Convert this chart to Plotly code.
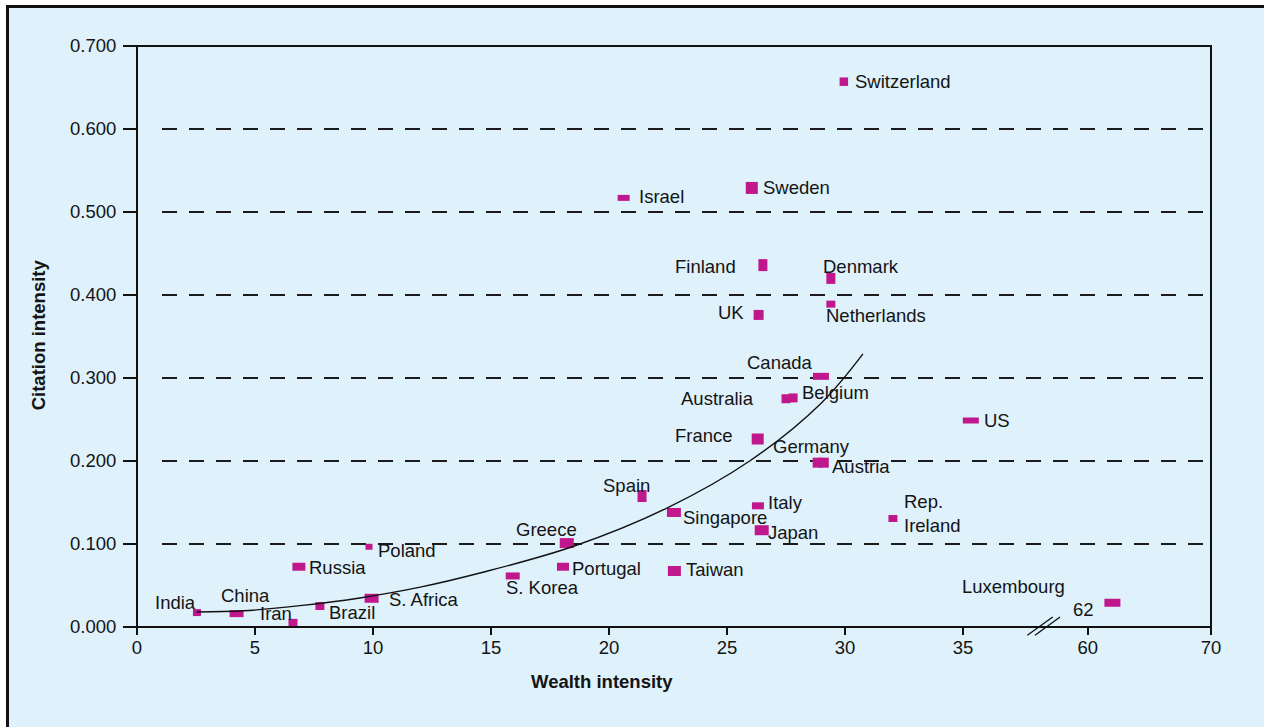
import plotly.graph_objects as go

# ---------------- data ----------------
countries = ["India", "China", "Iran", "Brazil", "Russia", "Poland", "S. Africa",
             "S. Korea", "Portugal", "Greece", "Spain", "Singapore", "Taiwan",
             "Israel", "Sweden", "Finland", "UK", "France", "Italy", "Japan",
             "Australia", "Belgium", "Canada", "Germany", "Austria", "Denmark",
             "Netherlands", "Switzerland", "Rep.<br>Ireland", "US", "Luxembourg"]
wealth = [2.54, 4.22, 6.61, 7.75, 6.86, 9.83, 9.94,
          15.92, 18.05, 18.21, 21.40, 22.75, 22.77,
          20.62, 26.05, 26.52, 26.34, 26.30, 26.31, 26.47,
          27.50, 27.80, 28.98, 28.84, 29.10, 29.40,
          29.40, 29.95, 32.03, 35.33, 62.0]
citation = [0.0174, 0.0161, 0.0050, 0.0253, 0.0726, 0.0967, 0.0346,
            0.0615, 0.0726, 0.1011, 0.1578, 0.1380, 0.0675,
            0.517, 0.529, 0.436, 0.376, 0.2265, 0.146, 0.1166,
            0.275, 0.276, 0.302, 0.198, 0.198, 0.420,
            0.389, 0.657, 0.1307, 0.2488, 0.0292]

# trend curve
trend_x = [2.52, 4.5, 7.0, 9.44, 12.0, 14.53, 18.47, 22.43, 25.96, 29.0, 30.76]
trend_y = [0.018, 0.0195, 0.026, 0.035, 0.048, 0.065, 0.097, 0.143, 0.200, 0.270, 0.329]

x_ticks_left = [0, 5, 10, 15, 20, 25, 30, 35]
x_ticks_right = [60, 70]
y_ticks = [0.0, 0.1, 0.2, 0.3, 0.4, 0.5, 0.6, 0.7]
grid_values = [0.1, 0.2, 0.3, 0.4, 0.5, 0.6]

# ---------------- styles ----------------
# marker rectangle sizes (w, h) in px, same order as countries
sizes = [(8, 7), (14, 7), (9, 8), (9, 8), (13, 8), (7, 6), (14, 9),
         (14, 7), (12, 8), (14, 10), (9, 12), (14, 9), (13, 10),
         (12, 6), (12, 12), (9, 12), (10, 10), (12, 11), (12, 7), (14, 10),
         (9, 9), (9, 9), (16, 7), (10, 10), (10, 10), (9, 11),
         (9, 7), (8.5, 8.5), (9, 7), (16, 6), (16, 8)]

# label placement: (xanchor, xshift px, yshift px)
label_map = {
    "India": ("right", 1, 9.6), "China": ("center", 9, 18.3), "Iran": ("right", 1, 9.8),
    "Brazil": ("left", 7.5, -6.6), "Russia": ("left", 8, -1.2), "Poland": ("left", 7.5, -3.5),
    "S. Africa": ("left", 15, -1), "S. Korea": ("left", -9, -11.6),
    "Portugal": ("left", 7.5, -1.8), "Greece": ("center", -20.7, 13.5),
    "Spain": ("right", 10, 10.8), "Singapore": ("left", 7.5, -5.3),
    "Taiwan": ("left", 10, 1.4), "Israel": ("left", 13, 1.8), "Sweden": ("left", 8.7, 0),
    "Finland": ("right", -25, -1.7), "UK": ("right", -12.5, 2.3),
    "France": ("right", -23, 3.1), "Italy": ("left", 8.5, 3), "Japan": ("left", 4.3, -2.7),
    "Australia": ("right", -30, -0.2), "Belgium": ("left", 7.2, 5.5),
    "Canada": ("right", -6, 14.2), "Germany": ("left", -46.7, 15.8),
    "Austria": ("left", 6.7, -4.2), "Denmark": ("left", -10, 12.3),
    "Netherlands": ("left", -6.6, -11.7), "Switzerland": ("left", 8.8, 0),
    "Rep.<br>Ireland": ("left", 9, 4.8), "US": ("left", 11, 0),
    "Luxembourg": ("right", -45.5, 15.8),
}

BG = "#dff1fb"
MAG = "#c0188c"
INK = "#141414"
FONT = "Liberation Sans, Arial, Helvetica, sans-serif"
BREAK_DOMAIN = 0.8436
BREAK_AT = 60  # values >= this are on the right-hand (broken) axis

fig = go.Figure()

left_idx = [i for i, v in enumerate(wealth) if v < BREAK_AT]
right_idx = [i for i, v in enumerate(wealth) if v >= BREAK_AT]
fig.add_trace(go.Scatter(x=[wealth[i] for i in left_idx], y=[citation[i] for i in left_idx],
                         mode="markers", marker=dict(size=10, opacity=0),
                         text=[countries[i] for i in left_idx], hoverinfo="text+x+y",
                         xaxis="x", yaxis="y", showlegend=False))
fig.add_trace(go.Scatter(x=[wealth[i] for i in right_idx], y=[citation[i] for i in right_idx],
                         mode="markers", marker=dict(size=10, opacity=0),
                         text=[countries[i] for i in right_idx], hoverinfo="text+x+y",
                         xaxis="x2", yaxis="y", showlegend=False))
fig.add_trace(go.Scatter(x=trend_x, y=trend_y, mode="lines",
                         line=dict(color="#111111", width=1.4, shape="spline", smoothing=1.0),
                         hoverinfo="skip", xaxis="x", yaxis="y", showlegend=False))

shapes = []
# background panel with border
shapes.append(dict(type="rect", xref="paper", yref="paper",
                   x0=(7.5 - 137) / 1074, x1=(1275 - 137) / 1074,
                   y0=(627 - 745) / 581, y1=(627 - 6.5) / 581,
                   fillcolor=BG, line=dict(color="#111111", width=3), layer="below"))
for g in grid_values:
    shapes.append(dict(type="line", xref="paper", yref="y",
                       x0=(162 - 137) / 1074, x1=1, y0=g, y1=g,
                       line=dict(color="#1a1a1a", width=2, dash="15px,12px"), layer="below"))
for xv, yv, (w, h) in zip(wealth, citation, sizes):
    xr = "x2" if xv >= BREAK_AT else "x"
    shapes.append(dict(type="rect", xref=xr, yref="y",
                       xsizemode="pixel", ysizemode="pixel",
                       xanchor=xv, yanchor=yv,
                       x0=-w / 2, x1=w / 2, y0=-h / 2, y1=h / 2,
                       fillcolor=MAG, line=dict(width=0), layer="below"))
shapes.append(dict(type="rect", xref="paper", yref="paper", x0=0, x1=1, y0=0, y1=1,
                   line=dict(color="#111111", width=2), layer="above"))
for dx0, dx1 in [(-15.7, 9.7), (-8, 17)]:
    shapes.append(dict(type="line", xref="paper", yref="paper",
                       xsizemode="pixel", ysizemode="pixel",
                       xanchor=BREAK_DOMAIN, yanchor=0,
                       x0=dx0, x1=dx1, y0=-8.3, y1=10,
                       line=dict(color="#111111", width=1.3), layer="above"))

annotations = []
for c, xv, yv in zip(countries, wealth, citation):
    xa, xs, ys = label_map[c]
    xr = "x2" if xv >= BREAK_AT else "x"
    annotations.append(dict(x=xv, y=yv, xref=xr, yref="y", text=c, showarrow=False,
                            xanchor=xa, yanchor="middle", xshift=xs, yshift=ys, align="left",
                            font=dict(family=FONT, size=18.5, color=INK)))
lux = countries.index("Luxembourg")
annotations.append(dict(x=wealth[lux], y=citation[lux], xref="x2", yref="y", text="62",
                        showarrow=False, xanchor="right", yanchor="middle", xshift=-16, yshift=-6.5,
                        font=dict(family=FONT, size=18.5, color=INK)))
annotations.append(dict(x=(602 - 137) / 1074, y=(627 - 681) / 581, xref="paper", yref="paper",
                        text="<b>Wealth intensity</b>", showarrow=False,
                        xanchor="center", yanchor="middle",
                        font=dict(family=FONT, size=18.5, color=INK)))
annotations.append(dict(x=(38.3 - 137) / 1074, y=(627 - 335) / 581, xref="paper", yref="paper",
                        text="<b>Citation intensity</b>", showarrow=False, textangle=-90,
                        xanchor="center", yanchor="middle",
                        font=dict(family=FONT, size=18.5, color=INK)))

tickfont = dict(family=FONT, size=18.5, color=INK)
xcommon = dict(ticks="outside", ticklen=7, tickwidth=2, tickcolor="#111111",
               showgrid=False, zeroline=False, showline=False, tickfont=tickfont,
               anchor="y", fixedrange=True, ticklabelstandoff=-3)
fig.update_layout(
    width=1264, height=727,
    margin=dict(l=137, r=53, t=46, b=100),
    paper_bgcolor="white", plot_bgcolor="rgba(0,0,0,0)",
    shapes=shapes, annotations=annotations,
    xaxis=dict(domain=[0, BREAK_DOMAIN], range=[0, 38.39], tickvals=x_ticks_left,
               ticktext=[str(v) for v in x_ticks_left], **xcommon),
    xaxis2=dict(domain=[BREAK_DOMAIN, 1], range=[56.37, 70], tickvals=x_ticks_right,
                ticktext=[str(v) for v in x_ticks_right], **xcommon),
    yaxis=dict(range=[0, 0.7], tickvals=y_ticks, ticktext=[f"{v:.3f}" for v in y_ticks],
               ticks="outside", ticklen=13, tickwidth=2, tickcolor="#111111",
               showgrid=False, zeroline=False, showline=False, tickfont=tickfont,
               anchor="x", fixedrange=True, ticklabelstandoff=3),
    hovermode="closest",
)

fig.write_html("out.html", config={"displayModeBar": False},
               post_script="document.body.style.margin='0px';document.body.style.overflow='hidden';")
